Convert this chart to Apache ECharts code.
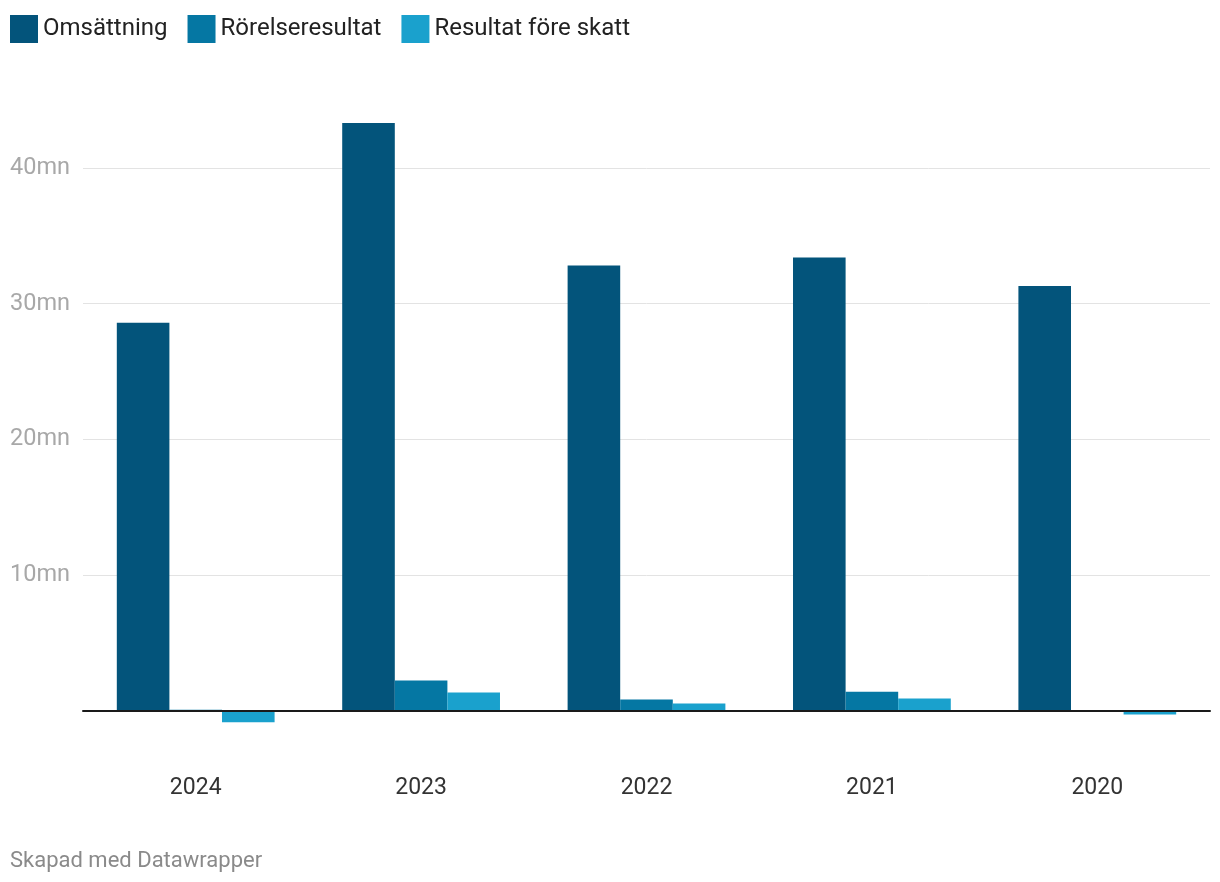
<!DOCTYPE html>
<html>
<head>
<meta charset="utf-8">
<script src="https://cdn.jsdelivr.net/npm/echarts@6/dist/echarts.min.js"></script>
<style>
  html, body { margin: 0; padding: 0; background: #fff; }
  #chart { width: 1220px; height: 882px; }
</style>
</head>
<body>
<div id="chart"></div>
<script>
const years = ['2024', '2023', '2022', '2021', '2020'];
const omsattning = [28.6, 43.3, 32.8, 33.4, 31.3];
const rorelseresultat = [0.1, 2.25, 0.85, 1.43, 0];
const resultatForeSkatt = [-0.83, 1.36, 0.55, 0.92, -0.25];
const seriesNames = ['Omsättning', 'Rörelseresultat', 'Resultat före skatt'];
const colors = ['#03547b', '#0577a3', '#1aa1cd'];
const footer = 'Skapad med Datawrapper';

const chart = echarts.init(document.getElementById('chart'));
const font = 'Roboto';
const seriesData = [omsattning, rorelseresultat, resultatForeSkatt];

chart.setOption({
  animation: false,
  textStyle: { fontFamily: font },
  color: colors,
  legend: {
    left: 5, top: 10,
    itemWidth: 28, itemHeight: 28,
    itemGap: 20,
    icon: 'rect',
    textStyle: { fontFamily: font, fontSize: 24, color: '#222', padding: [2, 0, 0, 0] },
    data: seriesNames
  },
  title: {
    text: footer,
    left: 5, bottom: 5,
    textStyle: { fontFamily: font, fontSize: 22, fontWeight: 'normal', color: '#8a8a8a' }
  },
  grid: { left: 83, right: 10, top: 113.5, bottom: 137 },
  xAxis: [
    {
      type: 'category', data: years, z: 10,
      axisLine: { onZero: true, lineStyle: { color: '#1a1a1a', width: 2 } },
      axisTick: { show: false },
      axisLabel: { show: false }
    },
    {
      type: 'category', data: years, position: 'bottom',
      axisLine: { show: false, onZero: false },
      axisTick: { show: false },
      axisLabel: { fontFamily: font, fontSize: 23, color: '#333', margin: 32 }
    }
  ],
  yAxis: {
    type: 'value', min: -2.5, max: 44,
    axisLine: { show: false },
    axisTick: { show: false },
    splitLine: { showMinLine: false, showMaxLine: false, lineStyle: { color: '#e3e3e3', width: 1 } },
    axisLabel: {
      fontFamily: font, fontSize: 23.5, color: '#a8a8a8', align: 'left', margin: 73,
      padding: [3, 0, 0, 0],
      formatter: v => (v > 0 && Math.abs(v % 10) < 1e-9) ? (v + 'mn') : ''
    }
  },
  series: seriesNames.map((name, i) => ({
    name, type: 'bar', xAxisIndex: 0,
    data: seriesData[i],
    barGap: '0%', barCategoryGap: '30%',
    itemStyle: { color: colors[i] }
  }))
});
</script>
</body>
</html>
